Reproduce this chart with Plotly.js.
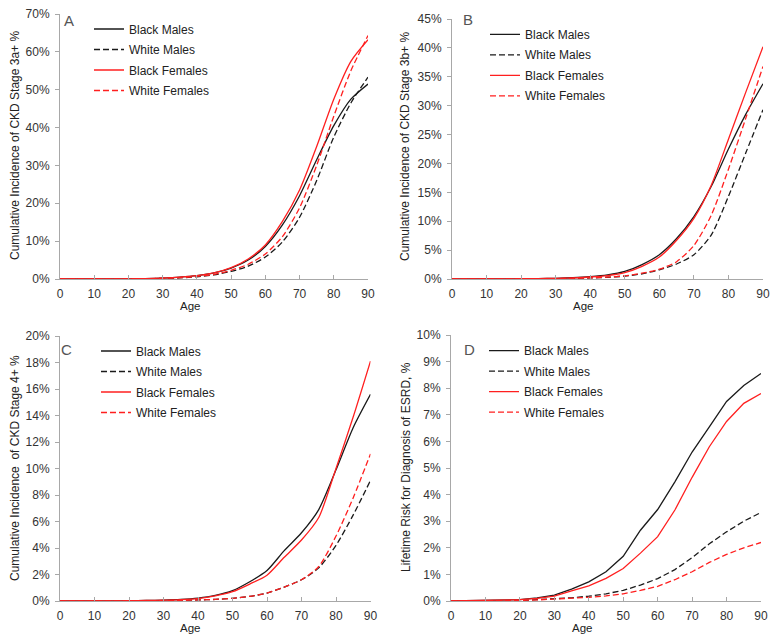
<!DOCTYPE html>
<html>
<head>
<meta charset="utf-8">
<script src="https://cdn.plot.ly/plotly-3.0.1.min.js"></script>
<style>
  html, body { margin: 0; padding: 0; background: #fff; }
  #chart { width: 779px; height: 643px; }
</style>
</head>
<body>
<div id="chart"></div>
<script>
// ages, every 5 years
var ages = [0, 5, 10, 15, 20, 25, 30, 35, 40, 45, 50, 55, 60, 65, 70, 75, 80, 85, 90];
var seriesNames = ['Black Males', 'White Males', 'Black Females', 'White Females'];

// A: cumulative incidence of CKD stage 3a+ (%)
var aBlackMales   = [0, 0, 0, 0.02, 0.05, 0.1, 0.25, 0.5, 0.9, 1.6, 2.9, 5.0, 8.6, 14.3, 22, 31.5, 40.5, 47.5, 51.5];
var aWhiteMales   = [0, 0, 0, 0.01, 0.03, 0.07, 0.15, 0.3, 0.6, 1.1, 2.0, 3.4, 5.8, 9.8, 16.3, 26, 37.5, 46.5, 53.3];
var aBlackFemales = [0, 0, 0, 0.02, 0.05, 0.1, 0.25, 0.5, 0.9, 1.6, 3.0, 5.3, 9.0, 15.2, 23.5, 35, 47.5, 57.5, 63.2];
var aWhiteFemales = [0, 0, 0, 0.01, 0.03, 0.07, 0.18, 0.35, 0.7, 1.2, 2.3, 3.9, 6.6, 11.2, 18.8, 30, 43, 55, 64.3];

// B: cumulative incidence of CKD stage 3b+ (%)
var bBlackMales   = [0, 0, 0, 0.02, 0.04, 0.07, 0.12, 0.22, 0.4, 0.7, 1.3, 2.5, 4.2, 7.0, 10.8, 16.0, 22.5, 28.5, 33.8];
var bWhiteMales   = [0, 0, 0, 0.01, 0.02, 0.04, 0.06, 0.1, 0.18, 0.3, 0.5, 0.9, 1.6, 2.6, 4.2, 7.6, 14.3, 21.8, 29.3];
var bBlackFemales = [0, 0, 0, 0.02, 0.04, 0.07, 0.12, 0.2, 0.35, 0.6, 1.1, 2.2, 3.8, 6.7, 10.5, 16.2, 24.2, 32.3, 40.2];
var bWhiteFemales = [0, 0, 0, 0.01, 0.02, 0.04, 0.07, 0.12, 0.2, 0.32, 0.55, 1.0, 1.7, 3.0, 5.8, 11, 19, 27.8, 36.8];

// C: cumulative incidence of CKD stage 4+ (%)
var cBlackMales   = [0, 0, 0, 0.01, 0.02, 0.04, 0.07, 0.12, 0.22, 0.42, 0.78, 1.45, 2.3, 3.8, 5.15, 6.9, 9.9, 13.1, 15.6];
var cWhiteMales   = [0, 0, 0, 0, 0.01, 0.02, 0.03, 0.05, 0.08, 0.12, 0.2, 0.35, 0.6, 1.05, 1.6, 2.5, 4.2, 6.5, 9.1];
var cBlackFemales = [0, 0, 0, 0.01, 0.02, 0.04, 0.06, 0.1, 0.18, 0.38, 0.7, 1.28, 1.95, 3.3, 4.6, 6.3, 10.0, 13.9, 18.1];
var cWhiteFemales = [0, 0, 0, 0, 0.01, 0.02, 0.03, 0.05, 0.08, 0.12, 0.2, 0.35, 0.6, 1.05, 1.6, 2.6, 4.9, 7.8, 11.1];

// D: lifetime risk for diagnosis of ESRD (%)
var dBlackMales   = [0, 0.01, 0.02, 0.03, 0.05, 0.12, 0.22, 0.45, 0.72, 1.1, 1.68, 2.66, 3.44, 4.48, 5.6, 6.55, 7.5, 8.1, 8.55];
var dWhiteMales   = [0, 0, 0.01, 0.01, 0.02, 0.05, 0.08, 0.12, 0.18, 0.27, 0.4, 0.6, 0.84, 1.18, 1.63, 2.15, 2.6, 3.0, 3.33];
var dBlackFemales = [0, 0.01, 0.02, 0.03, 0.05, 0.1, 0.18, 0.38, 0.57, 0.85, 1.22, 1.8, 2.42, 3.42, 4.65, 5.8, 6.75, 7.43, 7.8];
var dWhiteFemales = [0, 0, 0.01, 0.01, 0.02, 0.04, 0.07, 0.1, 0.14, 0.19, 0.27, 0.4, 0.55, 0.8, 1.1, 1.45, 1.75, 2.0, 2.2];

var W = 779, H = 643;
function px(x) { return x / W; }
function py(y) { return 1 - y / H; }

var FONT = 'Liberation Sans, Arial, sans-serif';
var BLACK = '#1a1a1a', RED = '#ff1f1f';
var styles = [
  {color: BLACK, dash: 'solid'},
  {color: BLACK, dash: '6px,3px'},
  {color: RED, dash: 'solid'},
  {color: RED, dash: '6px,3px'}
];

var panels = [
  {sets: [aBlackMales, aWhiteMales, aBlackFemales, aWhiteFemales], shape: 'spline'},
  {sets: [bBlackMales, bWhiteMales, bBlackFemales, bWhiteFemales], shape: 'spline'},
  {sets: [cBlackMales, cWhiteMales, cBlackFemales, cWhiteFemales], shape: 'spline'},
  {sets: [dBlackMales, dWhiteMales, dBlackFemales, dWhiteFemales], shape: 'linear'}
];

var data = [];
panels.forEach(function (p, i) {
  var n = i === 0 ? '' : String(i + 1);
  p.sets.forEach(function (vals, j) {
    data.push({
      x: ages,
      y: vals,
      type: 'scatter',
      mode: 'lines',
      name: seriesNames[j],
      xaxis: 'x' + n,
      yaxis: 'y' + n,
      legend: 'legend' + n,
      legendgroup: 'p' + i + 's' + j,
      line: {color: styles[j].color, dash: styles[j].dash, width: 1.3, shape: p.shape, smoothing: 0.7}
    });
  });
});

function xAxis(domain, anchor) {
  return {
    domain: domain, anchor: anchor, range: [0, 90], dtick: 10, tick0: 0,
    showgrid: false, zeroline: false, showline: true, linecolor: '#a8a8a8', linewidth: 1,
    ticks: 'inside', ticklen: 4, tickcolor: '#a8a8a8', ticklabelstandoff: 4,
    tickfont: {family: FONT, size: 12, color: '#333'}
  };
}
function yAxis(domain, anchor, top, step) {
  return {
    domain: domain, anchor: anchor, range: [0, top], dtick: step, tick0: 0, ticksuffix: '%',
    showgrid: false, zeroline: false, showline: true, linecolor: '#a8a8a8', linewidth: 1,
    ticks: 'outside', ticklen: 4, tickcolor: '#a8a8a8', ticklabelstandoff: 3,
    tickfont: {family: FONT, size: 12, color: '#333'}
  };
}
function legendAt(x, y) {
  return {
    x: px(x), y: py(y), xanchor: 'left', yanchor: 'top',
    bgcolor: 'rgba(0,0,0,0)', borderwidth: 0, itemwidth: 30, tracegroupgap: 1.5,
    font: {family: FONT, size: 12, color: '#222'}
  };
}
function note(text, x, y, size, angle, color) {
  return {
    text: text, xref: 'paper', yref: 'paper', x: px(x), y: py(y),
    xanchor: 'center', yanchor: 'middle', showarrow: false, textangle: angle || 0,
    font: {family: FONT, size: size, color: color || '#222'}
  };
}

var layout = {
  width: W, height: H,
  margin: {l: 0, r: 0, t: 0, b: 0},
  paper_bgcolor: '#fff', plot_bgcolor: '#fff',
  showlegend: true,
  xaxis:  xAxis([px(60), px(368)], 'y'),
  yaxis:  yAxis([py(279), py(14)], 'x', 70, 10),
  xaxis2: xAxis([px(452), px(763)], 'y2'),
  yaxis2: yAxis([py(279), py(19)], 'x2', 45, 5),
  xaxis3: xAxis([px(60), px(370.5)], 'y3'),
  yaxis3: yAxis([py(601), py(336)], 'x3', 20, 2),
  xaxis4: xAxis([px(451), px(761)], 'y4'),
  yaxis4: yAxis([py(601), py(335)], 'x4', 10, 1),
  legend:  legendAt(89, 14.5),
  legend2: legendAt(485, 19.8),
  legend3: legendAt(96, 336.5),
  legend4: legendAt(484, 336.2),
  annotations: [
    note('A', 69, 21, 15, 0, '#555'),
    note('B', 468, 20, 15, 0, '#555'),
    note('C', 66, 349, 15, 0, '#555'),
    note('D', 469, 349, 15, 0, '#555'),
    note('Age', 190, 306, 11.5),
    note('Age', 583, 306, 11.5),
    note('Age', 190, 628, 11.5),
    note('Age', 582, 628, 11.5),
    note('Cumulative Incidence of CKD Stage 3a+ %', 15, 146, 12, -90),
    note('Cumulative Incidence of CKD Stage 3b+ %', 405, 147, 12, -90),
    note('Cumulative Incidence  of CKD Stage 4+ %', 15, 468, 12, -90),
    note('Lifetime Risk for Diagnosis of ESRD, %', 406, 467, 12, -90)
  ]
};

Plotly.newPlot('chart', data, layout, {displayModeBar: false, staticPlot: true});
</script>
</body>
</html>
